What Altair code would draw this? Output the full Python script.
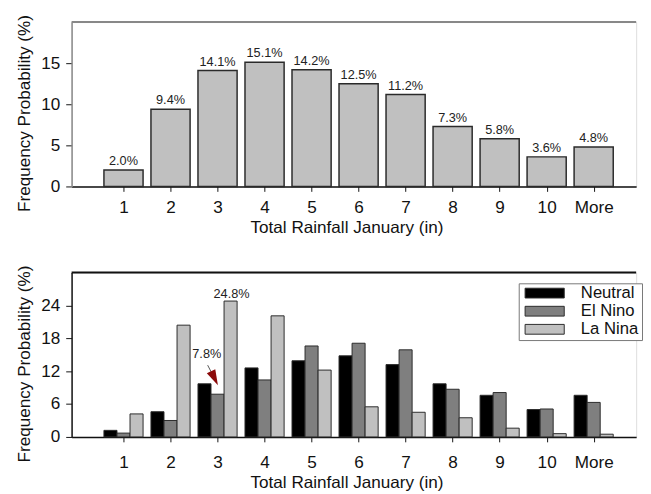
import altair as alt
import pandas as pd

# ---------------- data ----------------
categories = ["1", "2", "3", "4", "5", "6", "7", "8", "9", "10", "More"]
overall = [2.0, 9.4, 14.1, 15.1, 14.2, 12.5, 11.2, 7.3, 5.8, 3.6, 4.8]

series = ["Neutral", "El Nino", "La Nina"]
neutral = [1.2, 4.6, 9.7, 12.6, 13.9, 14.8, 13.2, 9.7, 7.6, 5.0, 7.6]
el_nino = [0.7, 3.0, 7.8, 10.4, 16.6, 17.1, 15.9, 8.7, 8.1, 5.1, 6.3]
la_nina = [4.2, 20.4, 24.8, 22.1, 12.2, 5.5, 4.5, 3.5, 1.6, 0.6, 0.5]
series_colors = ["#000000", "#7f7f7f", "#c0c0c0"]

# highlighted bars: (category, series)
hl_big = ("3", "La Nina")
hl_small = ("3", "El Nino")

# arrow annotation: category units (x) and percent (y)
arrow_x = [2.79, 2.935]
arrow_y = [13.1, 10.7]

FONT = "Liberation Sans"
FS = 17.5

# ---------------- layout ----------------
W = 577
H = 168
STEP = 48.9
BAR_W = 40
SUB_W = BAR_W / 3
x_dom = [0, W / STEP]
xs = alt.Scale(domain=x_dom, nice=False, zero=False)

label_expr = "datum.value == 11 ? 'More' : datum.label"


def x_axis(label_pad, title_pad):
    return alt.Axis(
        title="Total Rainfall January (in)", values=list(range(1, 12)),
        labelExpr=label_expr, labelFontSize=FS, titleFontSize=FS,
        titleFontWeight="normal", tickSize=5, tickColor="#111",
        labelPadding=label_pad, domainColor="#111", domainWidth=1.5,
        titleX=281, titlePadding=title_pad, labelColor="#111", titleColor="#111",
        grid=False, labelFont=FONT, titleFont=FONT, labelFlush=False,
    )


def y_axis(values, dom_color):
    return alt.Axis(
        title="Frequency Probability (%)", values=values, tickSize=6, tickColor="#111",
        labelPadding=6, labelFontSize=FS, titleFontSize=FS, titleFontWeight="normal",
        titlePadding=8, titleY=H / 2 + 9, domainColor=dom_color, domainWidth=1.5,
        labelColor="#111", titleColor="#111", grid=False, labelFont=FONT, titleFont=FONT,
    )


# ---------------- top chart ----------------
top_df = pd.DataFrame({"cat": categories, "value": overall})
top_df["pos"] = range(1, len(categories) + 1)
top_df["label"] = [f"{v:.1f}%" for v in overall]

ytop = alt.Scale(domain=[0, 20], nice=False)
top_xaxis = x_axis(8, 3)
top_yaxis = y_axis([0, 5, 10, 15], "#888")

top_bars = alt.Chart(top_df).mark_bar(
    fill="#c0c0c0", stroke="#2a2a2a", strokeWidth=1.5, size=BAR_W
).encode(
    x=alt.X("pos:Q", scale=xs, axis=top_xaxis),
    y=alt.Y("value:Q", scale=ytop, axis=top_yaxis),
)
top_text = alt.Chart(top_df).mark_text(
    dy=-5, baseline="alphabetic", fontSize=13, font=FONT, color="#222"
).encode(
    x=alt.X("pos:Q", scale=xs),
    y=alt.Y("value:Q", scale=ytop),
    text="label:N",
)
top_frame = alt.Chart(pd.DataFrame({"v": [20]})).mark_rule(color="#888", strokeWidth=2).encode(
    y=alt.Y("v:Q", scale=ytop)
)
top = alt.layer(top_bars, top_text, top_frame).properties(width=W, height=H)

# ---------------- bottom chart ----------------
rows = []
for s, vals in zip(series, [neutral, el_nino, la_nina]):
    for i, (c, v) in enumerate(zip(categories, vals)):
        rows.append({"cat": c, "pos": i + 1, "series": s, "value": v})
low_df = pd.DataFrame(rows)
low_df["label"] = [f"{v:.1f}%" for v in low_df["value"]]

ylow = alt.Scale(domain=[0, 30], nice=False)
fill_scale = alt.Scale(domain=series, range=series_colors)
legend = alt.Legend(
    orient="none", legendX=457, legendY=267, title=None,
    symbolType="M-1,-0.25H1V0.25H-1Z", symbolSize=1600,
    symbolStrokeColor="#2a2a2a", symbolStrokeWidth=1, symbolOffset=3,
    labelFontSize=17, labelFont=FONT, labelColor="#111", labelOffset=16.5,
    clipHeight=14, rowPadding=1.5, padding=3,
    strokeColor="#777", fillColor="white",
)
low_xaxis = x_axis(12, 3)
low_yaxis = y_axis([0, 6, 12, 18, 24], "#111")

offsets = {"Neutral": -SUB_W, "El Nino": 0, "La Nina": SUB_W}
layers = []
for s in series:
    layers.append(
        alt.Chart(low_df[low_df["series"] == s])
        .mark_bar(stroke="#2a2a2a", strokeWidth=1, size=SUB_W, xOffset=offsets[s])
        .encode(
            x=alt.X("pos:Q", scale=xs, axis=low_xaxis),
            y=alt.Y("value:Q", scale=ylow, axis=low_yaxis),
            fill=alt.Fill("series:N", sort=series, scale=fill_scale, legend=legend),
        )
    )

big_df = low_df[(low_df["cat"] == hl_big[0]) & (low_df["series"] == hl_big[1])]
small_df = low_df[(low_df["cat"] == hl_small[0]) & (low_df["series"] == hl_small[1])]

big_text = alt.Chart(big_df).mark_text(
    dx=offsets[hl_big[1]] + 1, dy=-3, baseline="alphabetic", fontSize=13, font=FONT, color="#222"
).encode(x=alt.X("pos:Q", scale=xs), y=alt.Y("value:Q", scale=ylow), text="label:N")
small_text = alt.Chart(small_df).mark_text(
    dx=-11, dy=-37, baseline="alphabetic", fontSize=13, font=FONT, color="#222"
).encode(x=alt.X("pos:Q", scale=xs), y=alt.Y("value:Q", scale=ylow), text="label:N")

low_frame = alt.Chart(pd.DataFrame({"v": [30]})).mark_rule(color="#111", strokeWidth=2).encode(
    y=alt.Y("v:Q", scale=ylow)
)

arrow_df = pd.DataFrame({"x": [arrow_x[0]], "y": [arrow_y[0]], "x2": [arrow_x[1]], "y2": [arrow_y[1]]})
arrow_line = alt.Chart(arrow_df).mark_rule(color="#555", strokeWidth=1).encode(
    x=alt.X("x:Q", scale=xs), x2="x2:Q", y=alt.Y("y:Q", scale=ylow), y2="y2:Q",
)
arrow_head = alt.Chart(arrow_df).mark_point(
    shape="M0,1L-0.6,-1L0.6,-1Z", size=256, angle=334, filled=True,
    color="#8b0a0a", opacity=1,
).encode(x=alt.X("x2:Q", scale=xs), y=alt.Y("y2:Q", scale=ylow))

bottom = alt.layer(*layers, big_text, small_text, low_frame, arrow_line, arrow_head).properties(
    width=W, height=H
)

chart = (
    alt.vconcat(top, bottom, spacing=27)
    .properties(padding={"left": 7, "top": 0, "right": 0, "bottom": 0})
    .configure_view(stroke=None)
    .configure(font=FONT)
)

chart.save("out.html", embed_options={"renderer": "svg", "actions": False})
